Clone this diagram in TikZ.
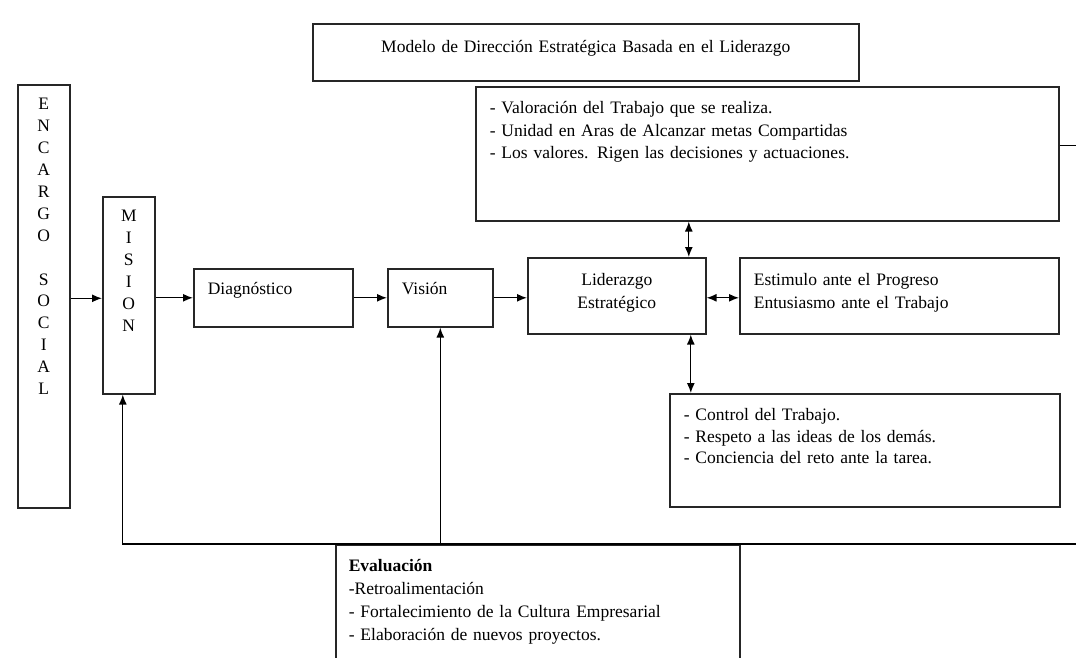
\documentclass[tikz,border=0pt]{standalone}
\usepackage{fontspec}
\setmainfont{Liberation Serif}
\usetikzlibrary{arrows.meta,positioning}
\begin{document}
\begin{tikzpicture}[x=1pt,y=-1pt,
  caja/.style={draw=black!85,line width=1.6pt,anchor=north west,inner ysep=0pt,inner xsep=14pt,align=left,font=\fontsize{17.5}{20}\selectfont},
  letras/.style={caja,inner xsep=0pt,align=center,font=\fontsize{17.5}{21.9}\selectfont},
  flecha/.style={-{Latex[length=10pt,width=8pt]},line width=1.3pt},
  doble/.style={{Latex[length=10pt,width=8pt]}-{Latex[length=10pt,width=8pt]},line width=1.3pt}]
		\useasboundingbox (0,0) rectangle (1076,657);
		\clip (0,0) rectangle (1076,657);
		\node[caja,align=center,inner xsep=0pt,text width=546pt,text height=29pt,text depth=28pt] (titulo) at (312,23) {Modelo de Dirección Estratégica Basada en el Liderazgo};
		\node[letras,text width=52pt,text height=25pt,text depth=398pt] (encargo) at (17,84) {E\\N\\C\\A\\R\\G\\O\\\mbox{}\\S\\O\\C\\I\\A\\L};
		\node[letras,text width=52pt,text height=24.7pt,text depth=172.3pt] (mision) at (102,196) {M\\I\\S\\I\\O\\N};
		\node[caja,text width=131pt,text height=26pt,text depth=32pt] (diagnostico) at (193,268) {Diagnóstico};
		\node[caja,text width=77pt,text height=26pt,text depth=32pt] (vision) at (387,268) {Visión};
		\node[caja,align=center,inner xsep=0pt,text width=178pt,text height=28pt,text depth=48pt,font=\fontsize{17.5}{23}\selectfont] (liderazgo) at (527,257) {Liderazgo\\Estratégico};
		\node[caja,text width=291pt,text height=28pt,text depth=48pt,font=\fontsize{17.5}{23}\selectfont] (estimulo) at (739,257) {Estimulo ante el Progreso\\Entusiasmo ante el Trabajo};
		\node[caja,text width=555pt,text height=27pt,text depth=107pt,font=\fontsize{17.5}{22.5}\selectfont] (valores) at (475,86) {- Valoración del Trabajo que se realiza.\\- Unidad en Aras de Alcanzar metas Compartidas\\- Los valores. Rigen las decisiones y actuaciones.};
		\node[caja,text width=362pt,text height=27pt,text depth=86pt,font=\fontsize{17.5}{21.5}\selectfont] (control) at (669,393) {- Control del Trabajo.\\- Respeto a las ideas de los demás.\\- Conciencia del reto ante la tarea.};
		\node[caja,inner xsep=13pt,text width=378pt,text height=26.7pt,text depth=110pt,font=\fontsize{17.5}{23}\selectfont] (evaluacion) at (335,544) {\textbf{Evaluación}\\-Retroalimentación\\- Fortalecimiento de la Cultura Empresarial\\- Elaboración de nuevos proyectos.};
		% flechas principales
		\draw[flecha] ([yshift=-2pt]encargo.east) -- ([yshift=-2pt]encargo.east -| mision.west);
		\draw[flecha] (mision.east |- diagnostico.west) -- (diagnostico.west);
		\draw[flecha] (diagnostico.east) -- (vision.west);
		\draw[flecha] (vision.east) -- (vision.east -| liderazgo.west);
		\draw[doble] ([yshift=-2pt]liderazgo.east) -- ([yshift=-2pt]estimulo.west);
		\draw[doble] ([xshift=72pt]liderazgo.north) -- ([xshift=72pt]liderazgo.north |- valores.south);
		\draw[doble] ([xshift=74pt]liderazgo.south) -- ([xshift=74pt]liderazgo.south |- control.north);
		% retroalimentacion
		\coordinate (retorno) at (1090,544);
		\coordinate (entrada) at ([xshift=-6pt]mision.south);
		\draw[flecha] ([yshift=8pt]valores.east) -| (retorno) -- (retorno -| entrada) -- (entrada);
		\draw[flecha] (vision.south |- retorno) -- (vision.south);
	\end{tikzpicture}
\end{document}
